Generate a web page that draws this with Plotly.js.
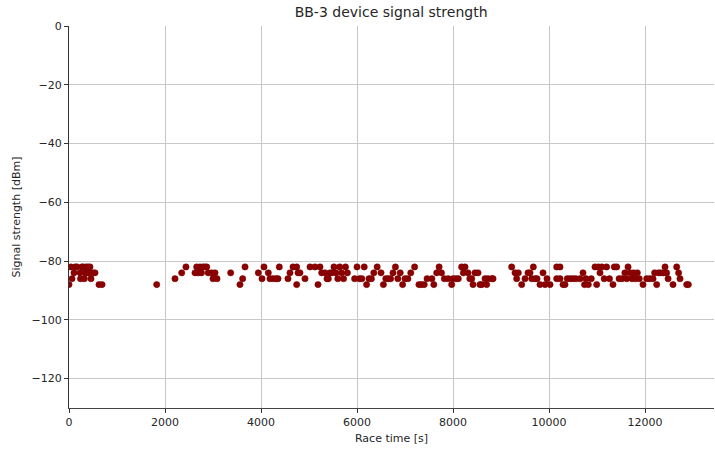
<!DOCTYPE html>
<html>
<head>
<meta charset="utf-8">
<script src="https://cdn.plot.ly/plotly-3.0.1.min.js"></script>
<style>html,body{margin:0;padding:0;background:#fff;}#chart{width:715px;height:450px;}</style>
</head>
<body>
<div id="chart"></div>
<script>
const chartTitle = "BB-3 device signal strength";
const xLabel = "Race time [s]";
const yLabel = "Signal strength [dBm]";

const raceTime = [
  0, 40, 63, 104, 130, 167, 229, 240, 271, 292, 320, 333, 354, 375, 396, 417, 437, 458, 500, 542, 625, 688,
  1827,
  2208, 2348, 2437,
  2625, 2660, 2688, 2729, 2760, 2792, 2830, 2869, 2900, 2973, 3000, 3042, 3083,
  3368, 3562, 3618, 3667,
  3944, 4021, 4062, 4152, 4187, 4250, 4312, 4354, 4381,
  4562, 4604, 4667, 4743, 4743, 4771, 4812, 4917,
  5021, 5125, 5188, 5229, 5264, 5333, 5375, 5402, 5440, 5480, 5520, 5560, 5600, 5640, 5680, 5720, 5760, 5800,
  5950, 6000, 6050, 6100, 6150, 6200, 6250, 6300, 6350, 6420, 6500, 6550, 6600, 6650, 6700, 6750, 6800, 6850, 6900, 6950, 7000,
  7060, 7120, 7200, 7290, 7340, 7400, 7460, 7560, 7600, 7660, 7710, 7760, 7820, 7900,
  7972, 8000, 8060, 8110, 8180, 8250, 8215, 8312, 8350, 8390, 8417, 8458, 8521, 8562, 8600, 8667, 8701, 8729, 8806, 8833,
  9222, 9292, 9326, 9360, 9431, 9500, 9562, 9604, 9640, 9673, 9710, 9750, 9812, 9875, 9917, 9958, 10021,
  10160, 10229, 10160, 10229, 10292, 10333, 10380, 10440, 10500, 10560,
  10646, 10708, 10740, 10770, 10819, 10880, 10958, 10993, 11028, 11062, 11100, 11150, 11200, 11260, 11333, 11360, 11410,
  11460, 11520, 11580, 11620, 11646, 11690, 11730, 11760, 11800, 11840, 11880, 11958,
  12035, 12104, 12167, 12200, 12243, 12280, 12330, 12380, 12417, 12450, 12480, 12583, 12660, 12700, 12729, 12868, 12903
];

const signal = [
  -88, -82, -86, -84, -82, -82, -84, -86, -82, -82, -86, -84, -82, -84, -82, -84, -82, -86, -84, -84, -88, -88,
  -88,
  -86, -84, -82,
  -84, -82, -84, -82, -84, -82, -82, -82, -84, -84, -86, -84, -86,
  -84, -88, -86, -82,
  -84, -86, -82, -84, -86, -86, -86, -86, -82,
  -86, -84, -82, -82, -88, -84, -84, -86,
  -82, -82, -88, -82, -84, -84, -86, -86, -84, -84, -82, -84, -86, -82, -84, -86, -82, -84,
  -86, -82, -86, -86, -82, -88, -86, -86, -84, -82, -84, -88, -86, -86, -86, -84, -82, -86, -84, -88, -86,
  -86, -84, -82, -88, -88, -88, -86, -86, -88, -84, -82, -84, -86, -86,
  -88, -86, -86, -86, -82, -82, -84, -84, -86, -86, -88, -84, -84, -88, -88, -86, -88, -86, -86, -86,
  -82, -84, -86, -84, -88, -86, -84, -84, -86, -82, -86, -86, -88, -84, -88, -86, -88,
  -82, -82, -86, -86, -88, -88, -86, -86, -86, -86,
  -86, -84, -88, -86, -88, -86, -82, -88, -82, -84, -82, -86, -82, -86, -88, -82, -82,
  -86, -86, -84, -86, -82, -84, -86, -84, -86, -84, -86, -88,
  -86, -86, -86, -84, -88, -84, -84, -84, -82, -84, -86, -88, -82, -84, -86, -88, -88
];

const trace = {
  x: raceTime,
  y: signal,
  type: 'scatter',
  mode: 'markers',
  marker: { color: '#8b0000', size: 6.3, line: { color: '#7a0000', width: 0.5 } },
  hoverinfo: 'x+y'
};

const axisFont = { family: 'DejaVu Sans, sans-serif', size: 11, color: '#262626' };

const layout = {
  width: 715,
  height: 450,
  margin: { l: 69, r: 1, t: 26, b: 42 },
  paper_bgcolor: '#ffffff',
  plot_bgcolor: '#ffffff',
  showlegend: false,
  title: { text: chartTitle, font: { family: 'DejaVu Sans, sans-serif', size: 14, color: '#262626' }, x: 0.547, xanchor: 'center', y: 0.985, yanchor: 'top' },
  xaxis: {
    range: [0, 13437],
    dtick: 2000,
    tick0: 0,
    tickformat: 'd',
    showgrid: true,
    gridcolor: '#c8c8c8',
    gridwidth: 1,
    zeroline: false,
    showline: true,
    linecolor: '#444444',
    linewidth: 1,
    ticks: 'outside',
    ticklen: 4,
    tickcolor: '#333333',
    tickfont: axisFont,
    title: { text: xLabel, font: axisFont, standoff: 6 }
  },
  yaxis: {
    range: [-130, 0],
    dtick: 20,
    tick0: 0,
    showgrid: true,
    gridcolor: '#c8c8c8',
    gridwidth: 1,
    zeroline: false,
    showline: true,
    linecolor: '#333333',
    linewidth: 1,
    ticks: 'outside',
    ticklen: 4,
    tickcolor: '#333333',
    tickfont: axisFont,
    title: { text: yLabel, font: axisFont, standoff: 8 }
  }
};

Plotly.newPlot('chart', [trace], layout, { displayModeBar: false, staticPlot: true });
</script>
</body>
</html>
